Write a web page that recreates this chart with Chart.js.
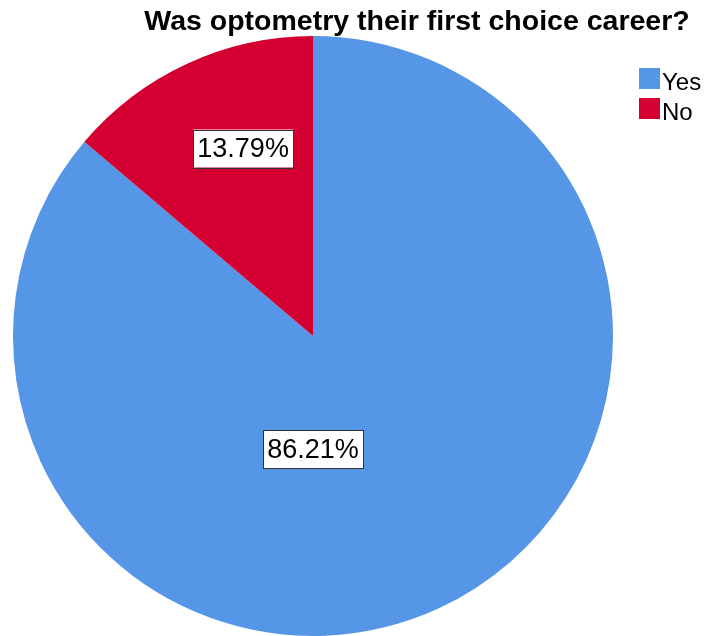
<!DOCTYPE html>
<html>
<head>
<meta charset="utf-8">
<script src="https://cdn.jsdelivr.net/npm/chart.js@4"></script>
<style>
  html, body { margin: 0; padding: 0; background: #fff; }
  canvas { display: block; }
</style>
</head>
<body>
<canvas id="chart" width="706" height="636"></canvas>
<script>
const titleText = "Was optometry their first choice career?";
const categories = ["Yes", "No"];
const percents = [86.21, 13.79];
const colors = ["#5596e6", "#d50032"];
// where each percentage box sits, in units of the pie radius from its centre
const labelOffsets = [[0.0, 0.378], [-0.233, -0.625]];

const font = "'Liberation Sans', Arial, sans-serif";

const decorations = {
  id: "decorations",
  afterDatasetsDraw(chart) {
    const ctx = chart.ctx;
    const meta = chart.getDatasetMeta(0);
    ctx.save();
    ctx.font = "27px " + font;
    ctx.textAlign = "center";
    ctx.textBaseline = "middle";
    meta.data.forEach((arc, i) => {
      const x = arc.x + labelOffsets[i][0] * arc.outerRadius;
      const y = arc.y + labelOffsets[i][1] * arc.outerRadius;
      const txt = percents[i].toFixed(2) + "%";
      const w = 100, h = 38;
      ctx.fillStyle = "#fff";
      ctx.fillRect(x - w / 2, y - h / 2, w, h);
      ctx.strokeStyle = "#333";
      ctx.lineWidth = 1;
      ctx.strokeRect(Math.round(x - w / 2) + 0.5, Math.round(y - h / 2) + 0.5, w, h);
      ctx.fillStyle = "#000";
      ctx.fillText(txt, x, y + 1);
    });

    // title
    ctx.font = "bold 28.5px " + font;
    ctx.textBaseline = "alphabetic";
    ctx.fillText(titleText, 417, 30);

    // legend
    ctx.font = "24px " + font;
    ctx.textAlign = "left";
    categories.forEach((c, i) => {
      const top = 68 + i * 30;
      ctx.fillStyle = colors[i];
      ctx.fillRect(639, top, 21, 21);
      ctx.fillStyle = "#000";
      ctx.fillText(c, 662, top + 22);
    });
    ctx.restore();
  }
};

new Chart(document.getElementById("chart"), {
  type: "pie",
  data: {
    labels: categories,
    datasets: [{
      data: percents,
      backgroundColor: colors,
      borderWidth: 0
    }]
  },
  options: {
    responsive: false,
    animation: false,
    layout: { padding: { left: 13, top: 36, right: 93, bottom: 0 } },
    plugins: {
      legend: { display: false },
      title: { display: false },
      tooltip: { enabled: false }
    }
  },
  plugins: [decorations]
});
</script>
</body>
</html>
